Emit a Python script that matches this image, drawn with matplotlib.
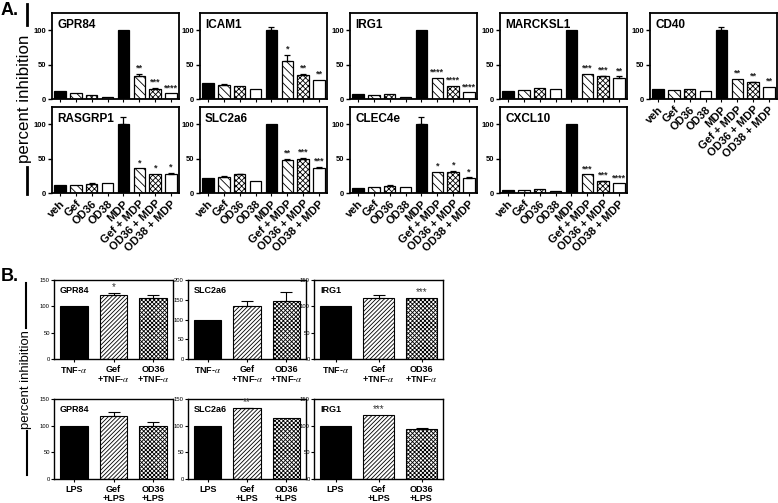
import numpy as np
import matplotlib
matplotlib.use('Agg')
from matplotlib import pyplot as plt
from matplotlib.lines import Line2D

plt.rcParams['font.family'] = ['Liberation Sans', 'DejaVu Sans']
plt.rcParams['mathtext.fontset'] = 'stix'
plt.rcParams['hatch.linewidth'] = 0.6

# ---- panel A data (percent inhibition) ----
a_groups = ['veh', 'Gef', 'OD36', 'OD38', 'MDP', 'Gef + MDP', 'OD36 + MDP', 'OD38 + MDP']
a_genes = ['GPR84', 'ICAM1', 'IRG1', 'MARCKSL1', 'CD40',
           'RASGRP1', 'SLC2a6', 'CLEC4e', 'CXCL10']
a_mean = {'GPR84':    [11, 9, 6, 3, 100, 34, 15, 8],
          'ICAM1':    [23, 21, 19, 14, 100, 55, 35, 28],
          'IRG1':     [7, 6, 7, 3, 100, 31, 19, 10],
          'MARCKSL1': [12, 13, 16, 15, 100, 37, 33, 30],
          'CD40':     [15, 13, 14, 11, 100, 29, 24, 18],
          'RASGRP1':  [11, 12, 13, 15, 100, 36, 28, 28],
          'SLC2a6':   [22, 23, 27, 17, 100, 48, 50, 37],
          'CLEC4e':   [7, 8, 10, 8, 100, 31, 31, 22],
          'CXCL10':   [5, 4, 6, 3, 100, 27, 17, 14]}
a_err = {'GPR84':    [0, 0, 0, 0, 0, 3, 1, 0],
         'ICAM1':    [0, 1, 0, 0, 4, 9, 2, 0],
         'IRG1':     [0, 0, 0, 0, 0, 0, 0, 0],
         'MARCKSL1': [0, 0, 0, 0, 0, 0, 1, 3],
         'CD40':     [0, 0, 0, 0, 4, 0, 1, 0],
         'RASGRP1':  [0, 0, 1, 0, 10, 0, 0, 1],
         'SLC2a6':   [0, 1, 1, 0, 0, 2, 1, 1],
         'CLEC4e':   [0, 0, 1, 0, 10, 0, 1, 1],
         'CXCL10':   [0, 0, 0, 0, 0, 0, 1, 0]}
a_sig = {'GPR84': ['**', '***', '****'], 'ICAM1': ['*', '**', '**'],
         'IRG1': ['****', '****', '****'], 'MARCKSL1': ['***', '***', '**'],
         'CD40': ['**', '**', '**'], 'RASGRP1': ['*', '*', '*'],
         'SLC2a6': ['**', '***', '***'], 'CLEC4e': ['*', '*', '*'],
         'CXCL10': ['***', '***', '****']}

# ---- panel B data ----
b_genes = ['GPR84', 'SLC2a6', 'IRG1']
b_tnf_labels = [r'TNF-$\alpha$', 'Gef\n' + r'+TNF-$\alpha$', 'OD36\n' + r'+TNF-$\alpha$']
b_lps_labels = ['LPS', 'Gef\n+LPS', 'OD36\n+LPS']
b_tnf_mean = {'GPR84': [100, 121, 115], 'SLC2a6': [100, 133, 148], 'IRG1': [100, 116, 116]}
b_tnf_err = {'GPR84': [0, 4, 6], 'SLC2a6': [0, 13, 22], 'IRG1': [0, 5, 0]}
b_tnf_sig = {'GPR84': ['', '*', ''], 'SLC2a6': ['', '', ''], 'IRG1': ['', '', '***']}
b_tnf_ymax = {'GPR84': 150, 'SLC2a6': 200, 'IRG1': 150}
b_lps_mean = {'GPR84': [100, 118, 99], 'SLC2a6': [100, 133, 115], 'IRG1': [100, 120, 94]}
b_lps_err = {'GPR84': [0, 7, 7], 'SLC2a6': [0, 1, 0], 'IRG1': [0, 0, 1]}
b_lps_sig = {'GPR84': ['', '', ''], 'SLC2a6': ['', '**', ''], 'IRG1': ['', '***', '']}

W, H = 778, 503
fig = plt.figure(figsize=(W / 100, H / 100), dpi=100)


def px_axes(left, top, width, bottom):
    return fig.add_axes([left / W, 1 - bottom / H, width / W, (bottom - top) / H])


a_colors = ['black', 'white', 'white', 'white', 'black', 'white', 'white', 'white']
a_hatch = [None, '\\\\\\\\', 'xxxxxx', None, None, '\\\\\\\\', 'xxxxxx', None]

a_cols = [52, 200, 350, 500, 650]
a_rows = [(13, 99), (107, 193)]

for i, gene in enumerate(a_genes):
    r, c = divmod(i, 5)
    top, bot = a_rows[r]
    ax = px_axes(a_cols[c], top, 127, bot)
    x = np.arange(len(a_groups))
    mean = np.array(a_mean[gene])
    err = np.array(a_err[gene])
    ax.bar(x, mean, width=0.72, color=a_colors, hatch=a_hatch,
           edgecolor='black', linewidth=0.9, zorder=2)
    m = err > 0
    ax.errorbar(x[m], mean[m], yerr=[np.zeros(m.sum()), err[m]], fmt='none',
                ecolor='black', elinewidth=0.9, capsize=2.5, capthick=0.9, zorder=3)
    for k, s in enumerate(a_sig[gene]):
        j = 5 + k
        ax.text(x[j], mean[j] + err[j] + 1.5, s, ha='center', va='bottom',
                fontsize=6.5, fontweight='bold', color='#222222')
    ax.set_xlim(-0.5, 7.5)
    ax.set_ylim(0, 125)
    ax.set_yticks([0, 50, 100])
    ax.set_xticks(x)
    ax.tick_params(axis='y', length=3, width=1, labelsize=5.5, pad=1)
    ax.tick_params(axis='x', length=2.5, width=0.8, pad=1.5)
    for lab in ax.get_yticklabels():
        lab.set_fontweight('bold')
    if r == 1 or c == 4:
        ax.set_xticklabels(a_groups, rotation=45, ha='right', va='top',
                           rotation_mode='anchor', fontsize=8, fontweight='bold')
    else:
        ax.set_xticklabels([])
    for sp in ax.spines.values():
        sp.set_linewidth(1.3)
    ax.text(0.04, 0.93, gene, transform=ax.transAxes, ha='left', va='top',
            fontsize=8.5, fontweight='bold')

b_colors = ['black', 'white', 'white']
b_hatch = [None, '////////', 'xxxxxxxx']
b_cols = [(54, 119), (188, 118), (314, 129)]
b_rows = [(280, 359), (399, 479)]
b_sets = [(b_tnf_mean, b_tnf_err, b_tnf_sig, b_tnf_labels),
          (b_lps_mean, b_lps_err, b_lps_sig, b_lps_labels)]

for r, (bmean, berr, bsig, blabels) in enumerate(b_sets):
    top, bot = b_rows[r]
    for c, gene in enumerate(b_genes):
        left, width = b_cols[c]
        ax = px_axes(left, top, width, bot)
        x = np.arange(3)
        mean = np.array(bmean[gene])
        err = np.array(berr[gene])
        ax.bar(x, mean, width=0.7, color=b_colors, hatch=b_hatch,
               edgecolor='black', linewidth=0.8, zorder=2)
        m = err > 0
        ax.errorbar(x[m], mean[m], yerr=[np.zeros(m.sum()), err[m]], fmt='none',
                    ecolor='black', elinewidth=0.8, capsize=4, capthick=0.8, zorder=3)
        ymax = b_tnf_ymax[gene] if r == 0 else 150
        for k, s in enumerate(bsig[gene]):
            if s:
                ax.text(x[k], mean[k] + err[k] + ymax * 0.01, s, ha='center',
                        va='bottom', fontsize=7, color='#333333')
        ax.set_xlim(-0.5, 2.5)
        ax.set_ylim(0, ymax)
        ax.set_yticks(np.arange(0, ymax + 1, 50))
        ax.set_xticks(x)
        ax.set_xticklabels(blabels, fontsize=6.5, fontweight='bold', linespacing=1.05)
        ax.tick_params(axis='y', length=2, width=0.8, labelsize=4.2, pad=1)
        ax.tick_params(axis='x', length=2, width=0.8, pad=2)
        for sp in ax.spines.values():
            sp.set_linewidth(1.0)
        ax.text(0.05, 0.93, gene, transform=ax.transAxes, ha='left', va='top',
                fontsize=6.5, fontweight='bold')

# panel letters and shared y labels
fig.text(1 / W, 1 - 15 / H, 'A.', fontsize=13, fontweight='bold', ha='left', va='baseline')
fig.text(1 / W, 1 - 281 / H, 'B.', fontsize=13, fontweight='bold', ha='left', va='baseline')
fig.text(25 / W, 1 - 99 / H, 'percent inhibition', rotation=90, fontsize=12.2,
         ha='center', va='center')
fig.text(26 / W, 1 - 380 / H, 'percent inhibition', rotation=90, fontsize=9.4,
         ha='center', va='center')
for (xp, y0, y1, lw) in [(27, 4, 25, 2.0), (27, 167, 194, 2.0),
                         (26, 283, 328, 1.5), (27, 431, 475, 1.5)]:
    fig.add_artist(Line2D([xp / W, xp / W], [1 - y0 / H, 1 - y1 / H],
                          color='black', linewidth=lw, transform=fig.transFigure))

fig.savefig('out.png', dpi=100)
